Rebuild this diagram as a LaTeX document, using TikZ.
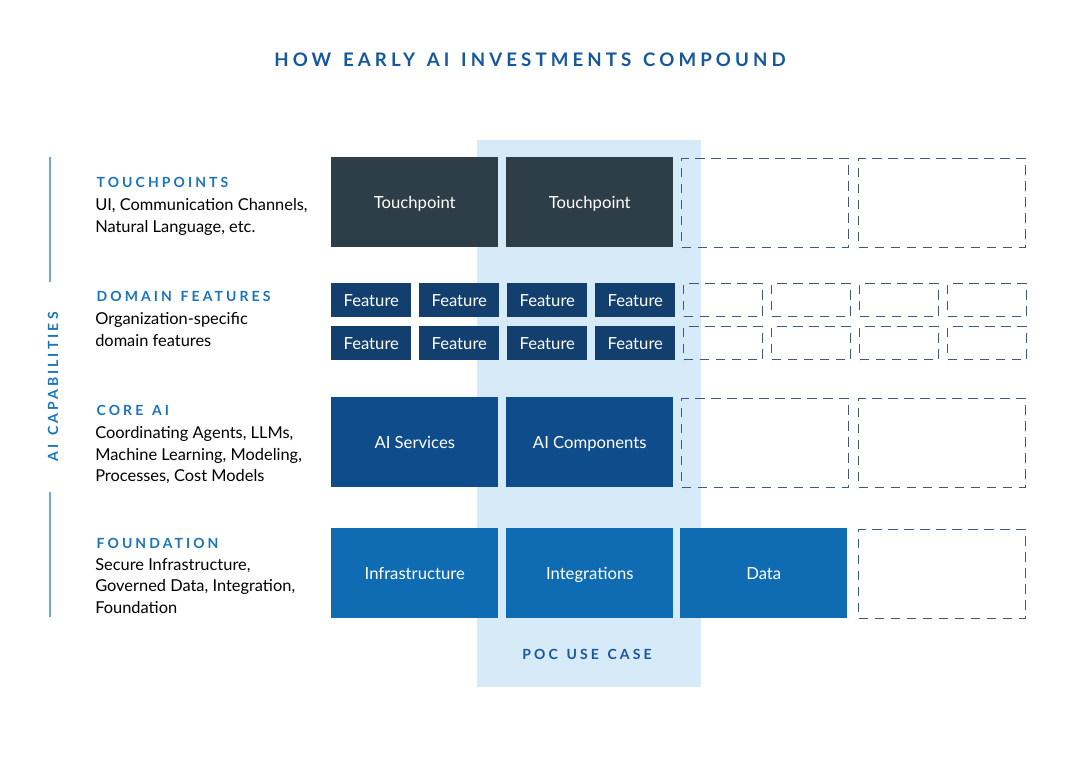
\documentclass[tikz,border=0pt]{standalone}
\usepackage{fontspec}
\setmainfont{Lato}
\newfontfamily\spaced[LetterSpace=22,WordSpace=1.35]{Lato Bold}
\definecolor{band}{HTML}{D6EAF8}
\definecolor{tp}{HTML}{2D3E48}
\definecolor{feat}{HTML}{133F6E}
\definecolor{core}{HTML}{0F4C8C}
\definecolor{fnd}{HTML}{0F6CB3}
\definecolor{head}{HTML}{1A75BC}
\definecolor{title}{HTML}{16589E}
\definecolor{line}{HTML}{6FA8DC}
\definecolor{dash}{HTML}{3E5A78}
\begin{document}
\begin{tikzpicture}[x=0.75pt,y=-0.75pt,
 box/.style={draw=none,anchor=north west,inner sep=0,text=white,text height=2.0ex,text depth=.1ex,font=\fontsize{12.5}{14}\selectfont},
 dbox/.style={draw=dash,dashed,dash pattern=on 7pt off 5pt,line width=1.1pt,anchor=north west,inner sep=0},
 hd/.style={anchor=west,text=head,font=\fontsize{10.5}{12}\spaced},
 ds/.style={anchor=north west,align=left,inner sep=0,font=\fontsize{12.3}{16.3}\selectfont}]
\useasboundingbox (0,0) rectangle (1075,768);
\fill[white] (0,0) rectangle (1075,768);
\node[text=title,font=\fontsize{14}{16}\spaced] (title) at (530,60) {HOW EARLY AI INVESTMENTS COMPOUND};
\node[fill=band,anchor=north west,minimum width=224*0.75pt,minimum height=547*0.75pt,inner sep=0] (band) at (477,140) {};
% touchpoints
\node[box,fill=tp,minimum width=167*0.75pt,minimum height=90*0.75pt] (t1) at (331,157) {Touchpoint};
\node[box,fill=tp,minimum width=167*0.75pt,minimum height=90*0.75pt] (t2) at (506,157) {Touchpoint};
\node[dbox,minimum width=167*0.75pt,minimum height=89*0.75pt] (t3) at (681,158) {};
\node[dbox,minimum width=167*0.75pt,minimum height=89*0.75pt] (t4) at (858,158) {};
% features
\foreach \r/\y in {1/283,2/326}{
 \foreach \i/\x in {1/331,2/419,3/507,4/595}{
  \node[box,fill=feat,minimum width=80*0.75pt,minimum height=34*0.75pt] (f\r\i) at (\x,\y) {Feature};}
 \foreach \i/\x in {5/683,6/771,7/859,8/947}{
  \node[dbox,minimum width=79*0.75pt,minimum height=33*0.75pt] (f\r\i) at (\x,\y) {};}
}
% core
\node[box,fill=core,minimum width=167*0.75pt,minimum height=90*0.75pt] (c1) at (331,397) {AI Services};
\node[box,fill=core,minimum width=167*0.75pt,minimum height=90*0.75pt] (c2) at (506,397) {AI Components};
\node[dbox,minimum width=167*0.75pt,minimum height=89*0.75pt] (c3) at (681,398) {};
\node[dbox,minimum width=167*0.75pt,minimum height=89*0.75pt] (c4) at (858,398) {};
% foundation
\node[box,fill=fnd,minimum width=167*0.75pt,minimum height=90*0.75pt] (d1) at (331,528) {Infrastructure};
\node[box,fill=fnd,minimum width=167*0.75pt,minimum height=90*0.75pt] (d2) at (506,528) {Integrations};
\node[box,fill=fnd,minimum width=167*0.75pt,minimum height=90*0.75pt] (d3) at (680,528) {Data};
\node[dbox,minimum width=167*0.75pt,minimum height=89*0.75pt] (d4) at (858,529) {};
\node[text=title,font=\fontsize{10.5}{12}\spaced] (poc) at (587,654) {POC USE CASE};
% left
\coordinate (l1) at (50,157); \coordinate (l2) at (50,282);
\coordinate (l3) at (50,492); \coordinate (l4) at (50,617);
\draw[line,line width=1.2pt] (l1) -- (l2) (l3) -- (l4);
\node[rotate=90,text=head,font=\fontsize{10.5}{12}\spaced] (aic) at (53,387) {AI CAPABILITIES};
\node[hd] (h1) at (92,182) {TOUCHPOINTS};
\node[ds] (s1) at (95,198) {UI, Communication Channels,\\Natural Language, etc.};
\node[hd] (h2) at (92,296) {DOMAIN FEATURES};
\node[ds] (s2) at (95,312) {Organization-specific\\domain features};
\node[hd] (h3) at (92,410) {CORE AI};
\node[ds] (s3) at (95,426) {Coordinating Agents, LLMs,\\Machine Learning, Modeling,\\Processes, Cost Models};
\node[hd] (h4) at (92,543) {FOUNDATION};
\node[ds] (s4) at (95,558) {Secure Infrastructure,\\Governed Data, Integration,\\Foundation};
\end{tikzpicture}
\end{document}
